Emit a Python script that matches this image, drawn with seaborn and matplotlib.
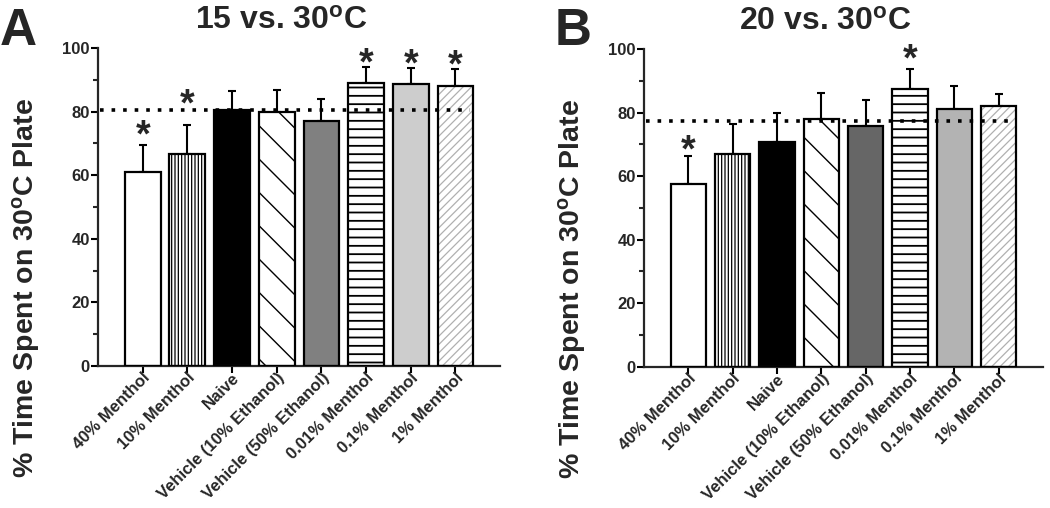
import matplotlib
matplotlib.use("Agg")
import matplotlib.pyplot as plt
import seaborn as sns
import numpy as np
import pandas as pd
from matplotlib.patches import Rectangle
from matplotlib.ticker import MultipleLocator

# ---------------- data ----------------
categories = ["40% Menthol", "10% Menthol", "Naive", "Vehicle (10% Ethanol)",
              "Vehicle (50% Ethanol)", "0.01% Menthol", "0.1% Menthol", "1% Menthol"]

means_a = [60.9, 66.8, 80.6, 80.0, 77.0, 89.0, 88.6, 88.2]
sem_a = [8.7, 9.0, 5.9, 6.7, 7.1, 5.1, 5.1, 5.2]
ref_a = 80.6
sig_a = [True, True, False, False, False, True, True, True]
star_y_a = [74.8, 84.7, None, None, None, 97.3, 97.0, 96.7]

means_b = [57.5, 67.1, 70.8, 78.0, 75.9, 87.5, 81.1, 82.0]
sem_b = [8.8, 9.4, 9.0, 8.3, 8.0, 6.3, 7.3, 3.9]
ref_b = 77.3
sig_b = [True, False, False, False, False, True, False, False]
star_y_b = [70.4, None, None, None, None, 99.1, None, None]

titles = ["15 vs. 30$^{\\mathbf{o}}$C", "20 vs. 30$^{\\mathbf{o}}$C"]
panel_letters = ["A", "B"]
ylabel = "% Time Spent on 30$^{\\mathbf{o}}$C Plate"

# styles
fills_a = ["white", "white", "black", "white", "#808080", "white", "#cdcdcd", "white"]
fills_b = ["white", "white", "black", "white", "#666666", "white", "#b3b3b3", "white"]
hatches = [None, "|||||", None, "\\", None, "--", None, "////"]
hatch_colors = ["black", "black", "black", "black", "black", "black", "black", "#b0b0b0"]
hatch_widths = [1.0, 0.9, 1.0, 1.0, 1.0, 1.3, 1.0, 0.9]

sns.set_style("ticks")
plt.rcParams["font.family"] = ["Liberation Sans", "DejaVu Sans"]
plt.rcParams["font.weight"] = "bold"
plt.rcParams["mathtext.fontset"] = "custom"
plt.rcParams["mathtext.rm"] = "Liberation Sans:bold"
plt.rcParams["mathtext.bf"] = "Liberation Sans:bold"
plt.rcParams["mathtext.it"] = "Liberation Sans:bold"
plt.rcParams["hatch.linewidth"] = 1.0

fig = plt.figure(figsize=(10.5, 5.08), dpi=100)
ax_a = fig.add_axes([0.0933, 0.2795, 0.383, 0.626])
ax_b = fig.add_axes([0.6133, 0.278, 0.38, 0.6255])


def draw(ax, means, sems, fills, ref, sig, star_y, title, label_x):
    df = pd.DataFrame({"cat": categories, "val": means})
    sns.barplot(data=df, x="cat", y="val", hue="cat", palette=fills,
                legend=False, errorbar=None, width=0.8, linewidth=0,
                saturation=1, ax=ax, zorder=2)
    bars = list(ax.patches)
    xs = []
    for p, h, hc, hw in zip(bars, hatches, hatch_colors, hatch_widths):
        if h:
            p.set_hatch(h)
            p.set_edgecolor(hc)
            p.set_linewidth(0)
            if hasattr(p, "set_hatch_linewidth"):
                p.set_hatch_linewidth(hw)
        xs.append(p.get_x() + p.get_width() / 2)
        ax.add_patch(Rectangle(p.get_xy(), p.get_width(), p.get_height(),
                               fill=False, edgecolor="black", linewidth=1.6,
                               zorder=3))
    ax.errorbar(xs, means, yerr=[np.zeros(len(means)), sems], fmt="none",
                ecolor="black", elinewidth=1.5, capsize=3, capthick=1.5,
                zorder=1)
    ax.axhline(ref, xmin=0.005, xmax=0.925, color="black", lw=2.6,
               linestyle=(0, (1, 2.2)), zorder=4)
    for x, s, yy in zip(xs, sig, star_y):
        if s:
            ax.annotate("*", (x, yy), xytext=(0, -6), textcoords="offset points",
                        ha="center", va="center", fontsize=27,
                        fontweight="bold", zorder=5)
    ax.set_xlim(-1, 8)
    ax.set_ylim(0, 100)
    ax.yaxis.set_major_locator(MultipleLocator(20))
    ax.yaxis.set_minor_locator(MultipleLocator(10))
    sns.despine(ax=ax)
    for s in ["left", "bottom"]:
        ax.spines[s].set_linewidth(1.6)
    ax.tick_params(axis="both", which="major", direction="out", length=5,
                   width=1.5, color="black")
    ax.tick_params(axis="y", which="minor", direction="out", length=3.5,
                   width=1.5)
    ax.tick_params(axis="y", labelsize=12, pad=1)
    ax.set_xticks(range(len(categories)))
    ax.set_xticklabels(categories, rotation=45, ha="right",
                       rotation_mode="anchor", fontsize=12,
                       fontweight="bold")
    ax.tick_params(axis="x", pad=-2)
    for t in ax.get_yticklabels():
        t.set_fontweight("bold")
    ax.set_xlabel("")
    ax.set_ylabel(ylabel, fontsize=20.5, fontweight="bold")
    ax.yaxis.set_label_coords(label_x, 0.245)
    ax.text(0.455, 1.06, title, transform=ax.transAxes, ha="center",
            va="baseline", fontsize=23, fontweight="bold")


draw(ax_a, means_a, sem_a, fills_a, ref_a, sig_a, star_y_a, titles[0], -0.139)
draw(ax_b, means_b, sem_b, fills_b, ref_b, sig_b, star_y_b, titles[1], -0.14)

fig.text(0.0, 0.911, panel_letters[0], fontsize=37, fontweight="bold",
         ha="left", va="baseline")
fig.text(0.5286, 0.911, panel_letters[1], fontsize=37, fontweight="bold",
         ha="left", va="baseline")

fig.savefig("out.png", dpi=100)
